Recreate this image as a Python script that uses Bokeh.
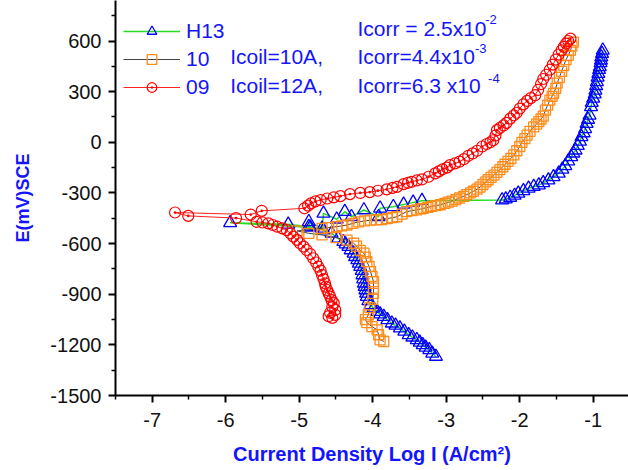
from bokeh.plotting import figure
from bokeh.models import Range1d, FixedTicker, Legend, LegendItem, Label
from bokeh.embed import file_html
from bokeh.resources import INLINE

# ---- data (log I in A/cm2, E in mV vs SCE) ----
h13_logi = [-3.14, -3.19, -3.23, -3.28, -3.32, -3.36, -3.40, -3.46, -3.51, -3.57, -3.63, -3.69,
            -3.74, -3.80, -3.85, -3.90, -3.94, -3.99, -4.03, -4.06, -4.08, -4.09, -4.10, -4.11,
            -4.12, -4.13, -4.14, -4.15, -4.17, -4.19, -4.21, -4.24, -4.26, -4.30, -4.33, -4.37,
            -4.40, -4.47, -4.56, -4.67, -4.87, -5.15, -5.94,
            -4.85, -4.87, -4.69, -4.67, -4.49, -4.38, -4.29, -4.12, -3.92, -3.90, -3.72, -3.58,
            -3.45, -3.33, -2.24, -2.19, -2.13, -2.07, -2.02, -1.95, -1.88, -1.81, -1.74, -1.68,
            -1.61, -1.54, -1.47, -1.42, -1.38, -1.34, -1.30, -1.27, -1.24, -1.21, -1.18, -1.16,
            -1.13, -1.11, -1.09, -1.07, -1.05, -1.03, -1.02, -1.00, -0.98, -0.97, -0.96, -0.95,
            -0.94, -0.93, -0.92, -0.91, -0.90, -0.895, -0.89, -0.88, -0.87]
h13_e = [-1269, -1250, -1230, -1215, -1200, -1185, -1170, -1155, -1141, -1120, -1101, -1085,
         -1072, -1052, -1033, -1018, -1003, -983, -963, -940, -914, -895, -875, -855,
         -835, -810, -786, -760, -737, -717, -697, -678, -658, -638, -618, -603,
         -589, -569, -539, -520, -500, -486, -477,
         -504, -471, -510, -421, -456, -411, -441, -401, -441, -391, -382, -368,
         -356, -346, -342, -337, -327, -315, -303, -288, -273, -263, -254, -240,
         -224, -205, -184, -160, -140, -112, -86, -65, -47, -20, 5, 32,
         55, 80, 111, 135, 160, 210, 235, 260, 285, 308, 335, 358,
         385, 407, 430, 447, 470, 486, 505, 525, 545]

i10_logi = [-3.85, -3.90, -3.92, -3.94, -4.01, -4.08, -4.10, -4.06, -4.04, -4.00, -3.99, -3.99,
            -3.99, -4.01, -4.03, -4.05, -4.08, -4.10, -4.12, -4.17, -4.22, -4.26, -4.35, -4.50,
            -4.69, -4.87, -5.03,
            -4.69, -4.60, -4.49, -4.42, -4.35, -4.27, -4.19, -4.11, -4.03, -3.95, -3.88, -3.80,
            -3.73, -3.67, -3.60, -3.54, -3.47, -3.40, -3.35, -3.31, -3.25, -3.20, -3.14, -3.08,
            -3.02, -2.97, -2.92, -2.87, -2.82, -2.76, -2.72, -2.67, -2.63, -2.58, -2.54, -2.50,
            -2.46, -2.43, -2.39, -2.35, -2.31, -2.27, -2.23, -2.20, -2.16, -2.12, -2.08, -2.04,
            -2.00, -1.97, -1.93, -1.90, -1.86, -1.81, -1.77, -1.74, -1.71, -1.68, -1.65, -1.62,
            -1.59, -1.56, -1.54, -1.51, -1.49, -1.46, -1.43, -1.40, -1.37, -1.34, -1.31, -1.29,
            -1.27]
i10_e = [-1180, -1170, -1140, -1111, -1092, -1068, -1050, -1022, -980, -930, -895, -864,
         -825, -795, -766, -735, -707, -680, -657, -640, -615, -598, -580, -565,
         -549, -539, -525,
         -510, -505, -500, -495, -490, -480, -471, -466, -461, -460, -458, -452,
         -446, -441, -425, -411, -405, -400, -395, -391, -386, -380, -375, -370,
         -362, -355, -348, -340, -330, -320, -310, -300, -290, -278, -265, -250,
         -235, -222, -208, -195, -178, -162, -145, -130, -113, -96, -75, -50,
         -25, 0, 22, 42, 65, 91, 108, 122, 138, 155, 190, 220,
         250, 272, 289, 320, 350, 385, 420, 455, 490, 515, 545, 570,
         594]

i09_logi = [-4.55, -4.60, -4.51, -4.58, -4.51, -4.55, -4.53, -4.56, -4.58, -4.60, -4.62, -4.64,
            -4.65, -4.67, -4.69, -4.71, -4.74, -4.77, -4.81, -4.85, -4.90, -4.94, -4.99, -5.03,
            -5.08, -5.12, -5.17, -5.23, -5.30, -5.36, -5.42, -5.50, -5.58, -5.86, -6.51, -6.69,
            -5.66, -5.51, -4.93, -4.88, -4.84, -4.78, -4.71, -4.62, -4.53, -4.44, -4.31, -4.17,
            -4.04, -3.93, -3.81, -3.73, -3.67, -3.58, -3.52, -3.47, -3.40, -3.33, -3.24, -3.15,
            -3.10, -3.05, -2.99, -2.95, -2.88, -2.82, -2.76, -2.70, -2.64, -2.58, -2.51, -2.45,
            -2.40, -2.36, -2.33, -2.31, -2.27, -2.22, -2.18, -2.13, -2.08, -2.04, -2.00, -1.95,
            -1.90, -1.85, -1.79, -1.75, -1.71, -1.68, -1.64, -1.59, -1.55, -1.51, -1.47, -1.43,
            -1.40, -1.37, -1.34, -1.31]
i09_e = [-1040, -1030, -1022, -1010, -993, -975, -953, -935, -914, -895, -875, -855,
         -835, -810, -786, -760, -737, -712, -687, -662, -638, -618, -598, -578,
         -559, -540, -520, -510, -500, -490, -480, -475, -471, -449, -436, -416,
         -428, -406, -391, -375, -362, -350, -342, -333, -326, -319, -307, -300,
         -295, -287, -279, -270, -264, -248, -240, -234, -226, -220, -204, -184,
         -172, -160, -150, -135, -125, -115, -100, -80, -66, -50, -25, -10,
         0, 12, 40, 72, 85, 100, 115, 140, 160, 175, 200, 225,
         245, 262, 279, 310, 345, 375, 400, 430, 460, 490, 520, 545,
         565, 585, 600, 614]

x_ticks = [-7, -6, -5, -4, -3, -2, -1]
x_minor = [-7.5, -6.5, -5.5, -4.5, -3.5, -2.5, -1.5, -0.5]
y_ticks = [-1500, -1200, -900, -600, -300, 0, 300, 600]
y_minor = [-1350, -1050, -750, -450, -150, 150, 450, 750]

series_names = ["H13", "10", "09"]
coil_texts = ["", "Icoil=10A,", "Icoil=12A,"]
icorr_main = ["Icorr = 2.5x10", "Icorr=4.4x10", "Icorr=6.3 x10"]
icorr_exp = ["-2", "-3", "-4"]

BLUE_TXT = "#1414FF"
FONT = "Liberation Sans"

p = figure(width=628, height=470, x_range=Range1d(-7.5, -0.52), y_range=Range1d(-1500, 840),
           output_backend="svg", toolbar_location=None,
           min_border_left=115, min_border_right=0, min_border_top=0, min_border_bottom=75)
p.outline_line_color = None
p.xgrid.visible = False
p.ygrid.visible = False
p.background_fill_color = "white"

# series
l1 = p.line(h13_logi, h13_e, line_color="#22DD22", line_width=1.5)
s1 = p.scatter(h13_logi, h13_e, marker="triangle", size=13, line_color="#0000FF",
               fill_alpha=0, line_width=1.3)
l2 = p.line(i10_logi, i10_e, line_color="#444444", line_width=1)
s2 = p.scatter(i10_logi, i10_e, marker="square", size=10, line_color="#FF8C1A",
               fill_alpha=0, line_width=1.3)
l3 = p.line(i09_logi, i09_e, line_color="#FF2020", line_width=1)
s3 = p.scatter(i09_logi, i09_e, marker="circle_dot", size=11, line_color="#FF0000",
               fill_alpha=0, line_width=1.2)

# axes
for ax in (p.xaxis[0], p.yaxis[0]):
    ax.axis_line_width = 2
    ax.major_tick_line_width = 2
    ax.minor_tick_line_width = 1.5
    ax.major_tick_out = 7
    ax.major_tick_in = 0
    ax.minor_tick_out = 4
    ax.minor_tick_in = 0
    ax.major_label_text_font = FONT
    ax.major_label_text_font_size = "20px"
    ax.major_label_text_color = "#111111"
    ax.axis_label_text_font = FONT
    ax.axis_label_text_font_style = "bold"
    ax.axis_label_text_color = BLUE_TXT

p.xaxis[0].ticker = FixedTicker(ticks=x_ticks, minor_ticks=x_minor)
p.yaxis[0].ticker = FixedTicker(ticks=y_ticks, minor_ticks=y_minor)
p.xaxis[0].major_label_overrides = {t: str(t) for t in x_ticks}
p.yaxis[0].major_label_overrides = {t: str(t) for t in y_ticks}
p.xaxis[0].axis_label = "Current Density Log I (A/cm\u00b2)"
p.yaxis[0].axis_label = "E(mV)SCE"
p.xaxis[0].axis_label_text_font_size = "20px"
p.yaxis[0].axis_label_text_font_size = "18px"
p.xaxis[0].major_label_standoff = 10
p.yaxis[0].major_label_standoff = 7
p.xaxis[0].axis_label_standoff = 13
p.yaxis[0].axis_label_standoff = 14

# legend
items = [LegendItem(label=series_names[0], renderers=[l1, s1]),
         LegendItem(label=series_names[1], renderers=[l2, s2]),
         LegendItem(label=series_names[2], renderers=[l3, s3])]
legend = Legend(items=items, location=(8, 296), glyph_width=57, glyph_height=24,
                label_height=24, spacing=4, padding=0, margin=0, border_line_color=None,
                background_fill_alpha=0, label_text_font=FONT, label_text_font_size="21px",
                label_text_color=BLUE_TXT, label_standoff=6)
p.add_layout(legend)

# legend texts (positions in data coordinates, vertically centred)
row_y = [675, 508, 335]
exp_x = [-2.47, -2.61, -2.43]
exp_y = [730, 557, 379]
for i in range(3):
    if coil_texts[i]:
        p.add_layout(Label(x=-5.94, y=row_y[i], text=coil_texts[i], text_font=FONT,
                           text_font_size="21px", text_color=BLUE_TXT,
                           text_baseline="middle"))
    p.add_layout(Label(x=-4.207, y=row_y[i], text=icorr_main[i], text_font=FONT,
                       text_font_size="21px", text_color=BLUE_TXT, text_baseline="middle"))
    p.add_layout(Label(x=exp_x[i], y=exp_y[i], text=icorr_exp[i], text_font=FONT,
                       text_font_size="13px", text_color=BLUE_TXT, text_baseline="middle"))

open("out.html", "w").write(file_html(p, INLINE))
